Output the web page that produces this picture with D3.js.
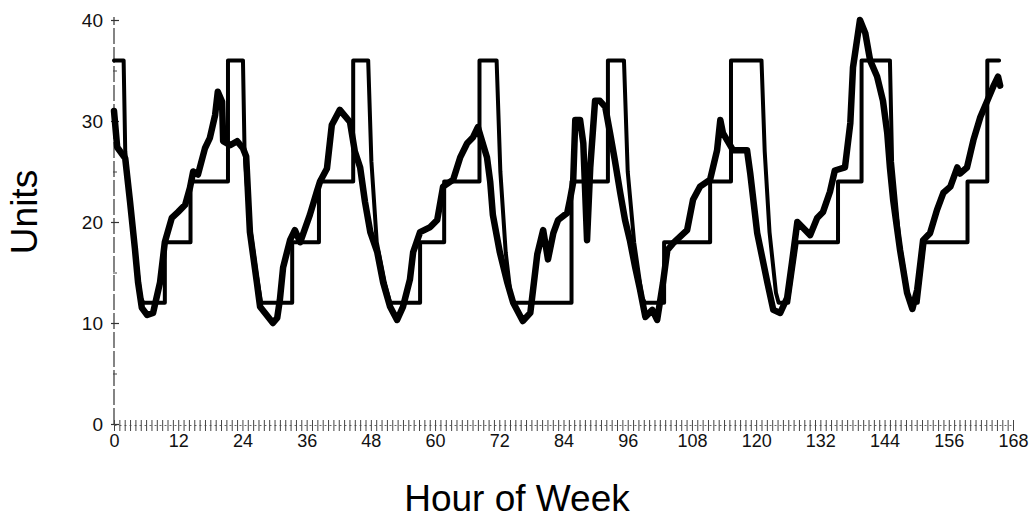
<!DOCTYPE html>
<html><head><meta charset="utf-8">
<script src="https://cdn.jsdelivr.net/npm/d3@7"></script>
<style>body{margin:0;background:#fff}svg{display:block}</style>
</head><body><svg id="c" width="1031" height="519"></svg>
<script>
// ---- data ----
const xTickLabels = [0,12,24,36,48,60,72,84,96,108,120,132,144,156,168];
const yTickLabels = [0,10,20,30,40];
const yMinorTicks = [5,15,25,35];
const hourTicks = d3.range(0,169);

// thin (step) series: breakpoints
const stepHours = [0,1.8,2.1,3.0,4.0,5.0,5.5,9.5,9.5,14.3,14.3,21.3,21.3,24.1,24.4,25.3,26.6,27.5,33.3,33.3,38.3,38.3,44.7,44.7,47.5,48.1,49.1,50.6,51.6,57.2,57.2,61.7,61.7,68.3,68.3,71.5,72.2,73.2,74.2,74.6,85.5,85.5,92.3,92.3,95.3,96.0,97.2,98.7,99.2,102.8,102.8,111.4,111.4,115.3,115.3,121.0,121.6,122.5,123.7,124.2,126.0,127.6,135.3,135.3,139.7,139.7,145.0,145.4,146.8,148.3,148.9,150.2,151.5,159.5,159.5,163.2,163.2,165.4];
const stepUnits = [36,36,27,22,17,12.5,12,12,18,18,24,24,36,36,27,20,15,12,12,18,18,24,24,36,36,26,18,14,12,12,18,18,24,24,36,36,25,17,12.5,12,12,24,24,36,36,25,18,12.5,12,12,18,18,24,24,36,36,27,19,13,12,12,18,18,24,24,36,36,26,18,13,12,12,18,18,24,24,36,36];

// thick (demand) series
const demandHours = [0,0.6,2.1,3.0,3.9,4.5,5.2,6.2,7.3,8.6,9.5,10.8,12.0,13.3,14.2,14.8,15.7,17.0,17.9,18.9,19.4,20.2,20.4,21.7,23.0,24.1,24.7,25.4,26.7,27.3,29.7,30.5,31.0,31.6,32.9,33.8,34.8,36.6,37.9,38.5,39.8,40.7,42.2,44.1,45.0,46.0,46.9,47.9,49.2,50.3,51.6,52.9,54.0,55.3,55.9,57.2,59.1,60.4,61.5,63.4,64.7,66.0,67.1,68.0,69.7,70.3,70.8,72.1,73.5,74.6,76.4,77.8,79.1,80.2,81.1,82.1,83.0,84.7,85.2,85.8,86.2,87.1,87.7,88.4,89.0,89.9,90.8,91.8,92.7,93.6,94.6,95.5,96.4,97.4,98.3,99.3,100.6,101.5,102.6,103.4,104.5,107.1,108.2,109.5,111.4,112.7,113.3,113.8,115.7,118.3,118.9,120.2,122.1,123.2,124.5,125.8,126.7,127.7,128.8,130.1,131.4,132.5,133.8,134.7,136.6,137.6,138.1,139.4,140.4,141.3,142.6,143.7,144.5,145.0,145.6,146.9,148.2,149.2,150.1,151.2,152.5,153.8,155.0,156.3,157.6,158.1,159.4,160.6,161.9,163.2,164.3,165.2,165.6];
const demandUnits = [31,27.4,26.3,22,17.4,14,11.5,10.8,11,14,18,20.4,21,21.7,23.4,25,24.7,27.3,28.3,30.6,32.9,31.9,28,27.6,28,27.3,26.5,19,14,11.6,10,10.5,12.3,15.5,18.2,19.2,18,20.7,23,24,25.3,29.6,31.1,29.9,27,25.4,22,19,17,14,11.6,10.3,11.6,14.3,17,19,19.5,20.2,23.5,24.2,26.4,27.8,28.4,29.4,26.4,24,20.7,17,14,12,10.2,11,16.8,19.2,16.3,18.9,20.2,20.9,22.2,23.9,30.1,30.1,27.8,18.2,25.4,32,32,31.4,28.8,26.1,22.9,20.2,18.2,15.5,13.3,10.6,11.3,10.3,14,17.2,17.9,19.2,22.2,23.5,24.2,27.1,30.1,28.8,27.1,27.1,24.8,18.9,14,11.3,11,12.5,16,20,19.4,18.7,20.4,21,23,25.1,25.4,29.8,35.3,40,38.7,36,34.4,32,28.8,25.4,22.2,17.2,13,11.4,13.3,18.2,18.9,21.2,22.9,23.5,25.4,24.8,25.4,28.1,30.4,32,33.4,34.4,33.5];

// ---- chart ----
const svg = d3.select('#c');
const x = d3.scaleLinear().domain([0,168]).range([114,1013]);
const y = d3.scaleLinear().domain([0,40]).range([424,20]);
const FONT = '"Liberation Sans", Arial, Helvetica, sans-serif';

// y axis
const gy = svg.append('g').attr('transform',`translate(${x(0)},0)`)
  .call(d3.axisLeft(y).tickValues(yTickLabels).tickSize(0).tickFormat(d3.format('d')));
gy.select('.domain').attr('d',`M0,${y(0)}V${y(40)-3}`)
  .attr('stroke','#333').attr('stroke-width',1.2).attr('stroke-dasharray','16,3');
gy.selectAll('.tick line').attr('x1',-3).attr('x2',5).attr('stroke','#333').attr('stroke-width',1.2);
gy.selectAll('.tick text').attr('x',-11).attr('dy','0.35em')
  .style('font-family',FONT).style('font-size','19px').attr('fill','#111');
svg.append('g').attr('transform',`translate(${x(0)},0)`)
  .call(d3.axisLeft(y).tickValues(yMinorTicks).tickSize(0).tickFormat(''))
  .call(g=>g.select('.domain').remove())
  .call(g=>g.selectAll('.tick line').attr('x1',-1).attr('x2',3).attr('stroke','#444'));

// x axis: hourly ticks row
const gxm = svg.append('g').attr('transform',`translate(0,${y(0)+1})`)
  .call(d3.axisBottom(x).tickValues(hourTicks).tickSize(0).tickFormat(''));
gxm.select('.domain').attr('stroke','#666').attr('stroke-width',1).attr('stroke-dasharray','2,3');
gxm.selectAll('.tick line').attr('y1',-5).attr('y2',6).attr('stroke','#444').attr('stroke-width',1);

// x axis labels
const gx = svg.append('g').attr('transform',`translate(0,${y(0)})`)
  .call(d3.axisBottom(x).tickValues(xTickLabels).tickSize(0).tickFormat(d3.format('d')));
gx.select('.domain').remove();
gx.selectAll('.tick text').attr('y',23).attr('dy',0)
  .style('font-family',FONT).style('font-size','18px').attr('fill','#111');

// lines
const stepData = stepHours.map((h,i)=>({h, v:stepUnits[i]}));
const demandData = demandHours.map((h,i)=>({h, v:demandUnits[i]}));
const line = d3.line().x(d=>x(d.h)).y(d=>y(d.v));
svg.append('path').datum(stepData).attr('d',line)
  .attr('fill','none').attr('stroke','#000').attr('stroke-width',4)
  .attr('stroke-linejoin','round').attr('stroke-linecap','round');
svg.append('path').datum(demandData).attr('d',line)
  .attr('fill','none').attr('stroke','#000').attr('stroke-width',6.5)
  .attr('stroke-linejoin','round').attr('stroke-linecap','round');

// titles
svg.append('text').attr('transform','translate(37,212) rotate(-90)')
  .attr('text-anchor','middle').style('font-family',FONT).style('font-size','37px')
  .attr('fill','#000').text('Units');
svg.append('text').attr('x',517).attr('y',511)
  .attr('text-anchor','middle').style('font-family',FONT).style('font-size','37px')
  .attr('fill','#000').text('Hour of Week');
</script></body></html>
